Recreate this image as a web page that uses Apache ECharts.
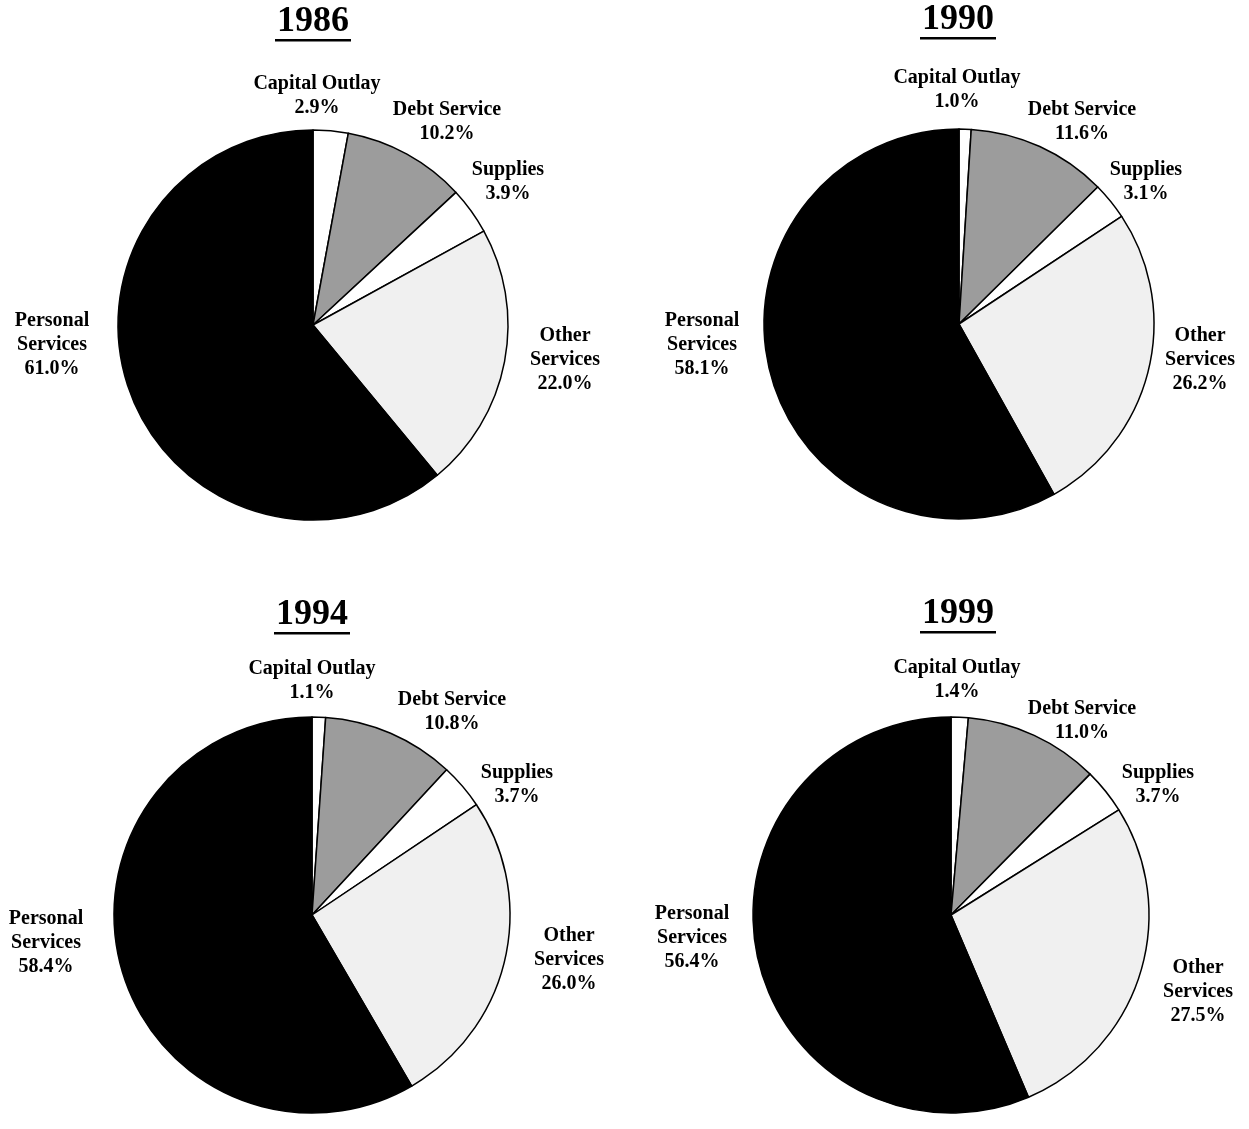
<!DOCTYPE html>
<html>
<head>
<meta charset="utf-8">
<script src="https://cdn.jsdelivr.net/npm/echarts@6/dist/echarts.min.js"></script>
<style>
html,body{margin:0;padding:0;background:#fff;}
#chart{width:1249px;height:1129px;}
</style>
</head>
<body>
<div id="chart"></div>
<script>
// ---- data ----
var categories = ['Capital Outlay', 'Debt Service', 'Supplies', 'Other Services', 'Personal Services'];
var labelLines = [['Capital Outlay'], ['Debt Service'], ['Supplies'], ['Other', 'Services'], ['Personal', 'Services']];
var years = ['1986', '1990', '1994', '1999'];
var values1986 = [2.9, 10.2, 3.9, 22.0, 61.0];
var values1990 = [1.0, 11.6, 3.1, 26.2, 58.1];
var values1994 = [1.1, 10.8, 3.7, 26.0, 58.4];
var values1999 = [1.4, 11.0, 3.7, 27.5, 56.4];
var allValues = [values1986, values1990, values1994, values1999];

// ---- layout / style ----
var pieLayout = [
  {c: [313, 325], r: 195},
  {c: [959, 324], r: 195},
  {c: [312, 915], r: 198},
  {c: [951, 915], r: 198}
];
var labelOffsets = [
  [[4, -229], [134, -203], [195, -143], [252, 35], [-261, 20]],
  [[-2, -234], [123, -202], [187, -142], [241, 36], [-257, 21]],
  [[0, -234], [140, -203], [205, -130], [257, 45], [-266, 28]],
  [[6, -235], [131, -194], [207, -130], [247, 77], [-259, 23]]
];
var titlePos = [[313, 22], [958, 20], [312, 615], [958, 614]];
var sliceColors = ['#ffffff', '#9c9c9c', '#ffffff', '#f0f0f0', '#000000'];
var FONT = '"Liberation Serif", "Times New Roman", serif';

var chart = echarts.init(document.getElementById('chart'), null, {renderer: 'canvas'});

var series = allValues.map(function (vals, si) {
  return {
    type: 'pie',
    center: pieLayout[si].c,
    radius: pieLayout[si].r,
    startAngle: 90,
    clockwise: true,
    silent: true,
    animation: false,
    itemStyle: {borderColor: '#000', borderWidth: 1.5},
    label: {
      show: true,
      position: 'outside',
      overflow: 'none',
      fontFamily: FONT,
      fontWeight: 'bold',
      fontSize: 20,
      lineHeight: 24,
      color: '#000',
      align: 'center',
      formatter: function (p) {
        return labelLines[p.dataIndex].concat([p.value.toFixed(1) + '%']).join('\n');
      }
    },
    labelLine: {show: false},
    labelLayout: function (p) {
      var off = labelOffsets[si][p.dataIndex];
      return {
        x: pieLayout[si].c[0] + off[0],
        y: pieLayout[si].c[1] + off[1],
        align: 'center',
        verticalAlign: 'middle'
      };
    },
    data: vals.map(function (v, i) {
      return {name: categories[i], value: v, itemStyle: {color: sliceColors[i]}};
    })
  };
});

var graphics = [];
years.forEach(function (y, i) {
  graphics.push({
    type: 'text',
    x: titlePos[i][0], y: titlePos[i][1],
    style: {
      text: y, fill: '#000', font: 'bold 36px ' + FONT,
      textAlign: 'center', textVerticalAlign: 'middle'
    },
    silent: true
  });
  graphics.push({
    type: 'rect',
    shape: {x: titlePos[i][0] - 38, y: titlePos[i][1] + 17, width: 76, height: 2.5},
    style: {fill: '#000'},
    silent: true
  });
});

chart.setOption({
  backgroundColor: '#fff',
  animation: false,
  series: series,
  graphic: graphics
});
</script>
</body>
</html>
